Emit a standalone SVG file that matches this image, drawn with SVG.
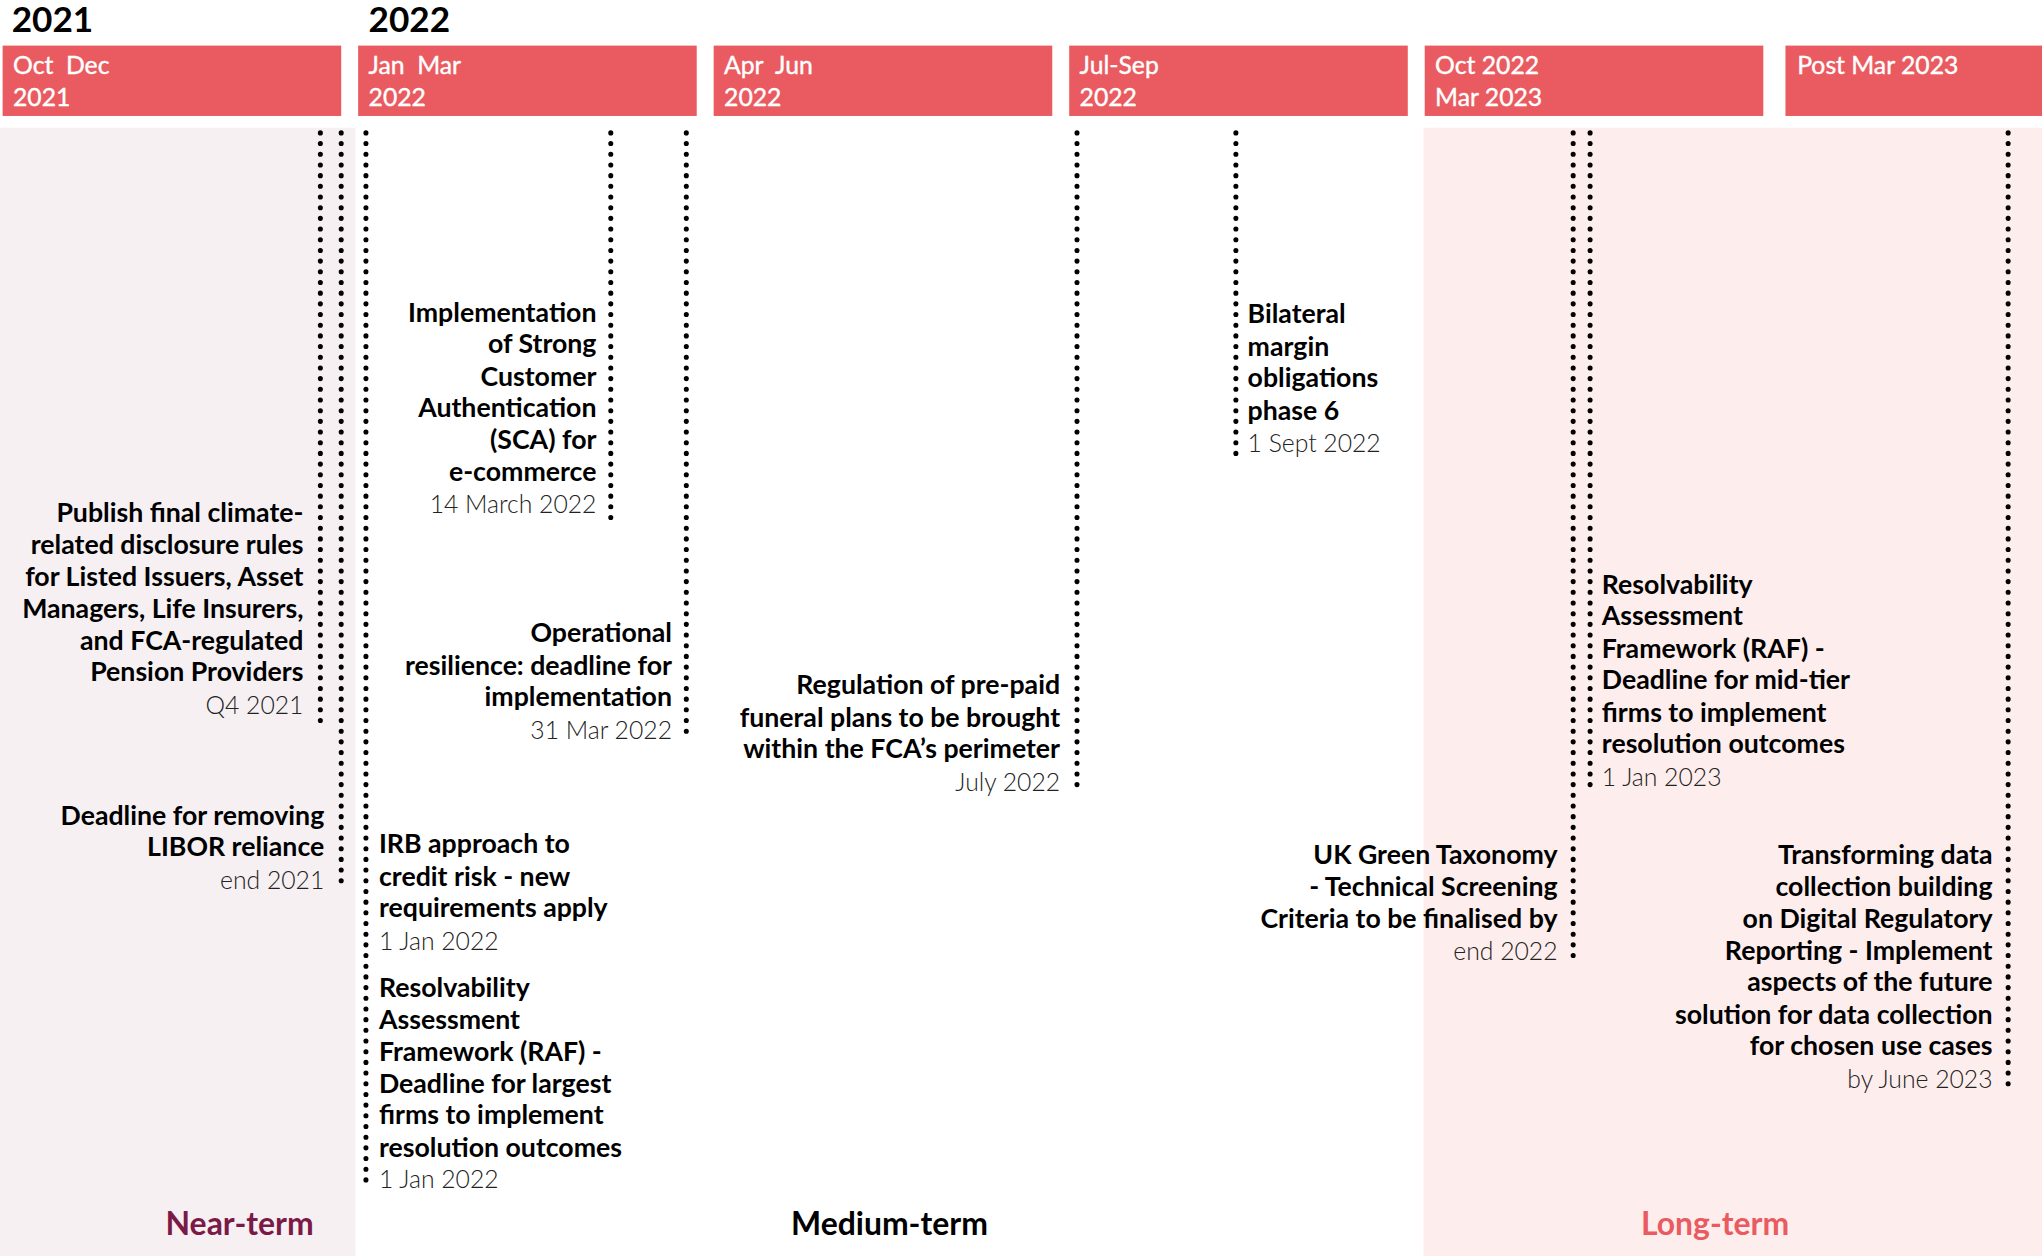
<svg xmlns="http://www.w3.org/2000/svg" width="2042" height="1256" viewBox="0 0 2042 1256">
<style>
.yr{font-family:Lato,"Liberation Sans",sans-serif;font-weight:700;font-size:27px;fill:#000}
.hd{font-family:Lato,"Liberation Sans",sans-serif;font-weight:400;font-size:19px;fill:#fff;stroke:#fff;stroke-width:0.3}
.b{font-family:Lato,"Liberation Sans",sans-serif;font-weight:700;font-size:20.5px;fill:#000}
.d{font-family:Lato,"Liberation Sans",sans-serif;font-weight:300;font-size:19px;fill:#222}
.r{text-anchor:end}
.term{font-family:Lato,"Liberation Sans",sans-serif;font-weight:700;font-size:24.5px;text-anchor:middle}
.dot{stroke:#000;stroke-width:3.9;stroke-linecap:round;stroke-dasharray:0 8.2;fill:none}
.hb{fill:#e95b60}
</style>
<rect width="2042" height="1256" fill="#fff"/>
<g transform="scale(1.30230,1.30290)">
<g id="panels">
<rect x="0" y="98" width="273" height="866" fill="#f6f0f2"/>
<rect x="1093" y="98" width="475" height="866" fill="#fdeeed"/>
</g>
<g id="years">
<text class="yr" x="9" y="24.5">2021</text>
<text class="yr" x="283" y="24.5">2022</text>
</g>
<g id="headers">
<g id="h1"><rect class="hb" x="2" y="35" width="260" height="54"/><text class="hd" x="10" y="57">Oct&#160;&#160;Dec</text><text class="hd" x="10" y="81">2021</text></g>
<g id="h2"><rect class="hb" x="275" y="35" width="260" height="54"/><text class="hd" x="283" y="57">Jan&#160;&#160;Mar</text><text class="hd" x="283" y="81">2022</text></g>
<g id="h3"><rect class="hb" x="548" y="35" width="260" height="54"/><text class="hd" x="556" y="57">Apr&#160;&#160;Jun</text><text class="hd" x="556" y="81">2022</text></g>
<g id="h4"><rect class="hb" x="821" y="35" width="260" height="54"/><text class="hd" x="829" y="57">Jul-Sep</text><text class="hd" x="829" y="81">2022</text></g>
<g id="h5"><rect class="hb" x="1094" y="35" width="260" height="54"/><text class="hd" x="1102" y="57">Oct 2022</text><text class="hd" x="1102" y="81">Mar 2023</text></g>
<g id="h6"><rect class="hb" x="1371" y="35" width="197" height="54"/><text class="hd" x="1380" y="57">Post Mar 2023</text></g>
</g>
<g id="connectors">
<line class="dot" x1="246" y1="102" x2="246" y2="553"/>
<line class="dot" x1="262" y1="102" x2="262" y2="680"/>
<line class="dot" x1="281" y1="102" x2="281" y2="912"/>
<line class="dot" x1="469" y1="102" x2="469" y2="400"/>
<line class="dot" x1="527" y1="102" x2="527" y2="562"/>
<line class="dot" x1="827" y1="102" x2="827" y2="608"/>
<line class="dot" x1="949" y1="102" x2="949" y2="350"/>
<line class="dot" x1="1208" y1="102" x2="1208" y2="740"/>
<line class="dot" x1="1221" y1="102" x2="1221" y2="607"/>
<line class="dot" x1="1542" y1="102" x2="1542" y2="835"/>
</g>
<g id="n-climate">
<text class="b r" x="233" y="401">Publish final climate-</text>
<text class="b r" x="233" y="425">related disclosure rules</text>
<text class="b r" x="233" y="450">for Listed Issuers, Asset</text>
<text class="b r" x="233" y="474">Managers, Life Insurers,</text>
<text class="b r" x="233" y="499">and FCA-regulated</text>
<text class="b r" x="233" y="523">Pension Providers</text>
<text class="d r" x="233" y="548">Q4 2021</text>
</g>
<g id="n-libor">
<text class="b r" x="249" y="633">Deadline for removing</text>
<text class="b r" x="249" y="657">LIBOR reliance</text>
<text class="d r" x="249" y="682">end 2021</text>
</g>
<g id="n-sca">
<text class="b r" x="458" y="247">Implementation</text>
<text class="b r" x="458" y="271">of Strong</text>
<text class="b r" x="458" y="296">Customer</text>
<text class="b r" x="458" y="320">Authentication</text>
<text class="b r" x="458" y="345">(SCA) for</text>
<text class="b r" x="458" y="369">e-commerce</text>
<text class="d r" x="458" y="394">14 March 2022</text>
</g>
<g id="n-opres">
<text class="b r" x="516" y="493">Operational</text>
<text class="b r" x="516" y="518">resilience: deadline for</text>
<text class="b r" x="516" y="542">implementation</text>
<text class="d r" x="516" y="567">31 Mar 2022</text>
</g>
<g id="n-irb">
<text class="b" x="291" y="655">IRB approach to</text>
<text class="b" x="291" y="680">credit risk - new</text>
<text class="b" x="291" y="704">requirements apply</text>
<text class="d" x="291" y="729">1 Jan 2022</text>
</g>
<g id="n-raf1">
<text class="b" x="291" y="765">Resolvability</text>
<text class="b" x="291" y="790">Assessment</text>
<text class="b" x="291" y="814">Framework (RAF) -</text>
<text class="b" x="291" y="839">Deadline for largest</text>
<text class="b" x="291" y="863">firms to implement</text>
<text class="b" x="291" y="888">resolution outcomes</text>
<text class="d" x="291" y="912">1 Jan 2022</text>
</g>
<g id="n-funeral">
<text class="b r" x="814" y="533">Regulation of pre-paid</text>
<text class="b r" x="814" y="558">funeral plans to be brought</text>
<text class="b r" x="814" y="582">within the FCA’s perimeter</text>
<text class="d r" x="814" y="607">July 2022</text>
</g>
<g id="n-margin">
<text class="b" x="958" y="248">Bilateral</text>
<text class="b" x="958" y="273">margin</text>
<text class="b" x="958" y="297">obligations</text>
<text class="b" x="958" y="322">phase 6</text>
<text class="d" x="958" y="347">1 Sept 2022</text>
</g>
<g id="n-raf2">
<text class="b" x="1230" y="456">Resolvability</text>
<text class="b" x="1230" y="480">Assessment</text>
<text class="b" x="1230" y="505">Framework (RAF) -</text>
<text class="b" x="1230" y="529">Deadline for mid-tier</text>
<text class="b" x="1230" y="554">firms to implement</text>
<text class="b" x="1230" y="578">resolution outcomes</text>
<text class="d" x="1230" y="603">1 Jan 2023</text>
</g>
<g id="n-taxonomy">
<text class="b r" x="1196" y="663">UK Green Taxonomy</text>
<text class="b r" x="1196" y="688">- Technical Screening</text>
<text class="b r" x="1196" y="712">Criteria to be finalised by</text>
<text class="d r" x="1196" y="737">end 2022</text>
</g>
<g id="n-data">
<text class="b r" x="1530" y="663">Transforming data</text>
<text class="b r" x="1530" y="688">collection building</text>
<text class="b r" x="1530" y="712">on Digital Regulatory</text>
<text class="b r" x="1530" y="737">Reporting - Implement</text>
<text class="b r" x="1530" y="761">aspects of the future</text>
<text class="b r" x="1530" y="786">solution for data collection</text>
<text class="b r" x="1530" y="810">for chosen use cases</text>
<text class="d r" x="1530" y="835">by June 2023</text>
</g>
<g id="terms">
<text class="term" x="184" y="948" fill="#7b1a46">Near-term</text>
<text class="term" x="683" y="948" fill="#000">Medium-term</text>
<text class="term" x="1317" y="948" fill="#e95b60">Long-term</text>
</g>
</g>
</svg>
